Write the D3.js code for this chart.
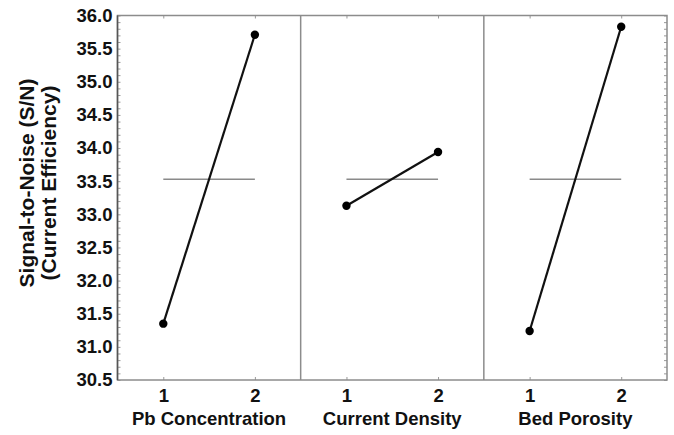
<!DOCTYPE html>
<html>
<head>
<meta charset="utf-8">
<script src="https://cdn.jsdelivr.net/npm/d3@7"></script>
<style>
  body { margin: 0; background: #fff; }
  svg { display: block; }
  text { font-family: "Liberation Sans", Arial, sans-serif; font-weight: bold; fill: #111; }
</style>
</head>
<body>
<div id="chart"></div>
<script>
(function() {
	"use strict";

	// chart values
	var factors = ["Pb Concentration", "Current Density", "Bed Porosity"];
	var levels = [1, 2];
	var snLevel1 = [31.35, 33.13, 31.24];
	var snLevel2 = [35.71, 33.94, 35.83];
	var snMean = 33.53;
	var yTicks = [30.5, 31.0, 31.5, 32.0, 32.5, 33.0, 33.5, 34.0, 34.5, 35.0, 35.5, 36.0];
	var yTitle = ["Signal-to-Noise (S/N)", "(Current Efficiency)"];

	var W = 674, H = 435;
	var m = { top: 15.5, right: 7, bottom: 55, left: 117.5 };
	var frameColor = "#8c8c8c";

	var svg = d3.select("#chart").append("svg")
		.attr("width", W)
		.attr("height", H);

	var y = d3.scaleLinear()
		.domain([yTicks[0], yTicks[yTicks.length - 1]])
		.range([H - m.bottom, m.top]);

	var panel = d3.scaleBand()
		.domain(factors)
		.range([m.left, W - m.right])
		.padding(0);

	var x = d3.scaleLinear()
		.domain([0.5, 2.5])
		.range([0, panel.bandwidth()]);

	var y0 = y.range()[0], y1 = y.range()[1];
	var x0 = panel.range()[0], x1 = panel.range()[1];

	// minor ticks every 0.1, inward on left and right
	var minor = d3.range(Math.round(yTicks[0] * 10), Math.round(yTicks[yTicks.length - 1] * 10) + 1)
		.map(function(d) { return d / 10; });

	var leftAxis = svg.append("g")
		.attr("transform", "translate(" + x0 + ",0)")
		.call(d3.axisRight(y).tickValues(minor).tickSize(3).tickFormat(""));
	leftAxis.select(".domain").remove();
	leftAxis.selectAll("line").attr("stroke", "#999");

	var rightAxis = svg.append("g")
		.attr("transform", "translate(" + x1 + ",0)")
		.call(d3.axisLeft(y).tickValues(minor).tickSize(3).tickFormat(""));
	rightAxis.select(".domain").remove();
	rightAxis.selectAll("line").attr("stroke", "#999");

	// tick labels on the left
	var yLab = svg.append("g")
		.attr("transform", "translate(" + x0 + ",0)")
		.call(d3.axisLeft(y).tickValues(yTicks).tickSize(0).tickPadding(5).tickFormat(d3.format(".1f")));
	yLab.select(".domain").remove();
	yLab.selectAll("text")
		.style("font-size", "18.5px")
		.style("font-family", null)
		.attr("fill", "#111");

	// panels
	var g = svg.selectAll(".panel")
		.data(factors)
		.enter().append("g")
		.attr("class", "panel")
		.attr("transform", function(d) { return "translate(" + panel(d) + ",0)"; });

	// small inward ticks at the level positions, top and bottom
	g.each(function(d) {
		var p = d3.select(this);
		var b = p.append("g")
			.attr("transform", "translate(0," + y0 + ")")
			.call(d3.axisTop(x).tickValues(levels).tickSize(3).tickFormat(""));
		b.select(".domain").remove();
		b.selectAll("line").attr("stroke", "#999");
		var t = p.append("g")
			.attr("transform", "translate(0," + y1 + ")")
			.call(d3.axisBottom(x).tickValues(levels).tickSize(3).tickFormat(""));
		t.select(".domain").remove();
		t.selectAll("line").attr("stroke", "#999");

		var lab = p.append("g")
			.attr("transform", "translate(0," + y0 + ")")
			.call(d3.axisBottom(x).tickValues(levels).tickSize(0).tickPadding(9).tickFormat(d3.format("d")));
		lab.select(".domain").remove();
		lab.selectAll("text")
			.style("font-size", "18.5px")
			.style("font-family", null)
			.attr("fill", "#111");
	});

	// factor names
	g.append("text")
		.attr("x", panel.bandwidth() / 2)
		.attr("y", 425)
		.attr("text-anchor", "middle")
		.style("font-size", "18.5px")
		.text(function(d) { return d; });

	// overall mean line
	g.append("line")
		.attr("x1", x(levels[0]))
		.attr("x2", x(levels[1]))
		.attr("y1", y(snMean))
		.attr("y2", y(snMean))
		.attr("stroke", "#8a8a8a")
		.attr("stroke-width", 1.6);

	var line = d3.line()
		.x(function(d) { return x(d.level); })
		.y(function(d) { return y(d.value); });

	var pts = function(d, i) {
		return [{ level: levels[0], value: snLevel1[i] }, { level: levels[1], value: snLevel2[i] }];
	};

	g.append("path")
		.attr("d", function(d, i) { return line(pts(d, i)); })
		.attr("fill", "none")
		.attr("stroke", "#111")
		.attr("stroke-width", 2.2);

	g.selectAll("circle")
		.data(function(d, i) { return pts(d, i); })
		.enter().append("circle")
		.attr("cx", function(d) { return x(d.level); })
		.attr("cy", function(d) { return y(d.value); })
		.attr("r", 4.2)
		.attr("fill", "#000");

	// frame and panel dividers
	svg.append("rect")
		.attr("x", x0)
		.attr("y", y1)
		.attr("width", x1 - x0)
		.attr("height", y0 - y1)
		.attr("fill", "none")
		.attr("stroke", frameColor)
		.attr("stroke-width", 1.5);

	svg.selectAll(".divider")
		.data(factors.slice(1))
		.enter().append("line")
		.attr("class", "divider")
		.attr("x1", function(d) { return panel(d); })
		.attr("x2", function(d) { return panel(d); })
		.attr("y1", y1)
		.attr("y2", y0)
		.attr("stroke", frameColor)
		.attr("stroke-width", 1.5);

	// left axis line a bit darker
	svg.append("line")
		.attr("x1", x0).attr("x2", x0)
		.attr("y1", y1).attr("y2", y0)
		.attr("stroke", "#555")
		.attr("stroke-width", 1.5);

	// y title, two lines
	var yt = svg.append("text")
		.attr("transform", "translate(0," + 183 + ") rotate(-90)")
		.attr("text-anchor", "middle")
		.style("font-size", "21px");
	yt.selectAll("tspan")
		.data(yTitle)
		.enter().append("tspan")
		.attr("x", 0)
		.attr("y", function(d, i) { return 34 + i * 22; })
		.text(function(d) { return d; });
})();
</script>
</body>
</html>
